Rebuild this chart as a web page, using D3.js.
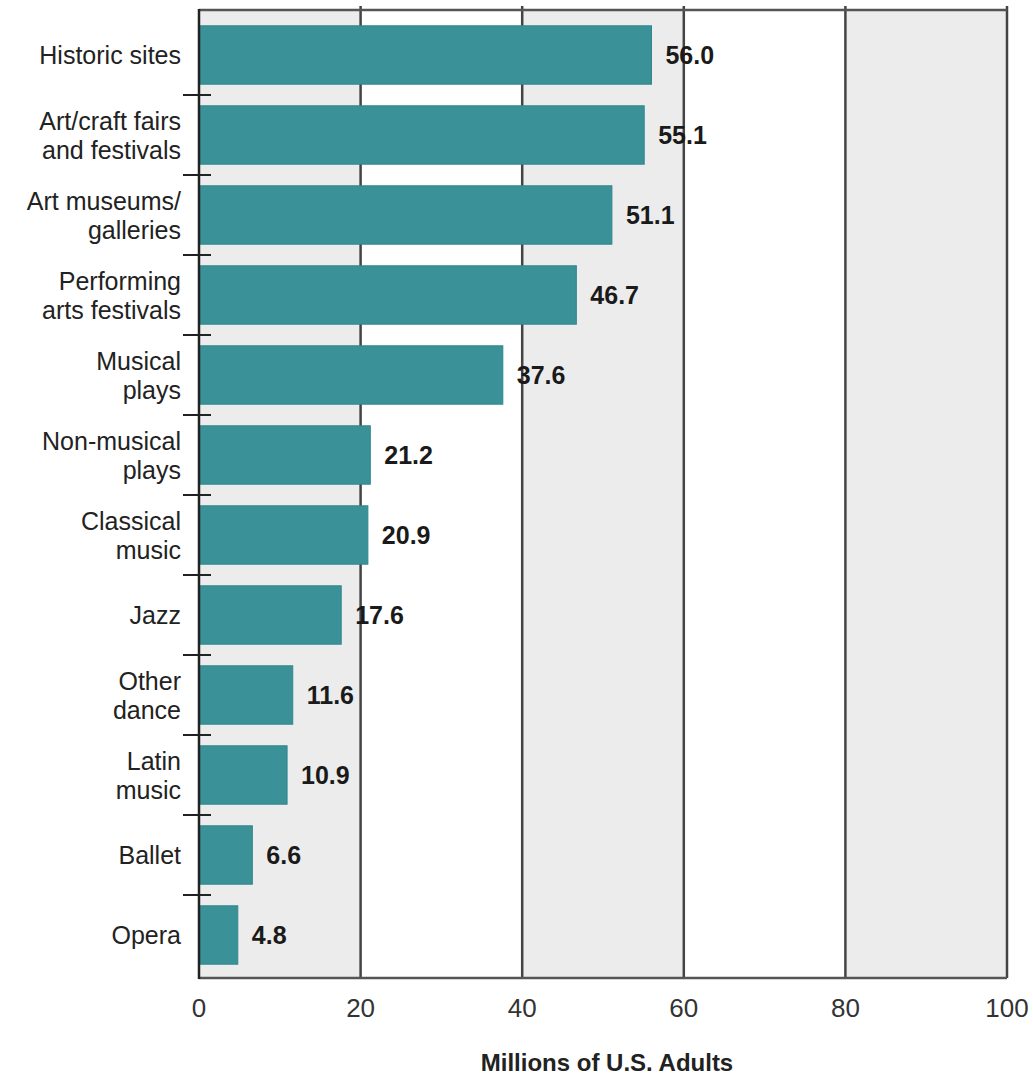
<!DOCTYPE html>
<html>
<head>
<meta charset="utf-8">
<script src="https://cdn.jsdelivr.net/npm/d3@7"></script>
<style>
  body { margin: 0; background: #fff; }
  svg { display: block; font-family: "Liberation Sans", Arial, sans-serif; }
</style>
</head>
<body>
<div id="chart"></div>
<script>
// Data
const categories = [
    'Historic sites',
    'Art/craft fairs\nand festivals',
    'Art museums/\ngalleries',
    'Performing\narts festivals',
    'Musical\nplays',
    'Non-musical\nplays',
    'Classical\nmusic',
    'Jazz',
    'Other\ndance',
    'Latin\nmusic',
    'Ballet',
    'Opera'
];
const values = [56.0, 55.1, 51.1, 46.7, 37.6, 21.2, 20.9, 17.6, 11.6, 10.9, 6.6, 4.8];
const xTicks = [0, 20, 40, 60, 80, 100];
const axisTitle = 'Millions of U.S. Adults';

const W = 1033, H = 1077;
const plot = { left: 199, right: 1007, top: 10, bottom: 978 };

const svg = d3.select('#chart').append('svg')
    .attr('width', W)
    .attr('height', H);

const x = d3.scaleLinear().domain([0, 100]).range([plot.left, plot.right]);
const y = d3.scaleBand().domain(categories).range([15, 975])
    .paddingInner(0.27).paddingOuter(0.135);

// alternating background bands
const bands = d3.pairs(xTicks);
svg.append('g').selectAll('rect')
    .data(bands)
    .join('rect')
    .attr('x', d => x(d[0]))
    .attr('y', plot.top)
    .attr('width', d => x(d[1]) - x(d[0]))
    .attr('height', plot.bottom - plot.top)
    .attr('fill', (d, i) => i % 2 === 0 ? '#ececec' : '#ffffff');

// vertical gridlines (with small bumps above the top frame)
svg.append('g').selectAll('line')
    .data(xTicks.slice(1))
    .join('line')
    .attr('x1', d => x(d)).attr('x2', d => x(d))
    .attr('y1', plot.top - 4).attr('y2', plot.bottom)
    .attr('stroke', '#444').attr('stroke-width', 2.5);

// frame: top and bottom
svg.append('line')
    .attr('x1', plot.left).attr('x2', plot.right)
    .attr('y1', plot.top).attr('y2', plot.top)
    .attr('stroke', '#555').attr('stroke-width', 2.5);
svg.append('line')
    .attr('x1', plot.left).attr('x2', plot.right)
    .attr('y1', plot.bottom).attr('y2', plot.bottom)
    .attr('stroke', '#555').attr('stroke-width', 2.5);

// bars
svg.append('g').selectAll('rect')
    .data(values)
    .join('rect')
    .attr('x', x(0))
    .attr('y', (d, i) => y(categories[i]))
    .attr('width', d => x(d) - x(0))
    .attr('height', y.bandwidth())
    .attr('fill', '#3a9198')
    .attr('stroke', '#2f878d')
    .attr('stroke-width', 1);

// left axis line
svg.append('line')
    .attr('x1', plot.left).attr('x2', plot.left)
    .attr('y1', plot.top - 1).attr('y2', plot.bottom + 1)
    .attr('stroke', '#222').attr('stroke-width', 2.5);

// ticks between categories on the left axis
const gap = y.step() - y.bandwidth();
svg.append('g').selectAll('line')
    .data(categories.slice(1))
    .join('line')
    .attr('x1', plot.left - 16).attr('x2', plot.left + 12)
    .attr('y1', d => y(d) - gap / 2).attr('y2', d => y(d) - gap / 2)
    .attr('stroke', '#222').attr('stroke-width', 2);

// category labels
const lineH = 29;
svg.append('g').selectAll('text')
    .data(categories)
    .join('text')
    .attr('text-anchor', 'end')
    .attr('font-size', 25)
    .attr('fill', '#222')
    .each(function(d) {
        const lines = d.split('\n');
        const cy = y(d) + y.bandwidth() / 2;
        const t = d3.select(this);
        lines.forEach((ln, k) => {
            t.append('tspan')
                .attr('x', 181)
                .attr('y', cy + (k - (lines.length - 1) / 2) * lineH)
                .attr('dy', '0.36em')
                .text(ln);
        });
    });

// value labels
const fmt = d3.format('.1f');
svg.append('g').selectAll('text')
    .data(values)
    .join('text')
    .attr('x', d => x(d) + 14)
    .attr('y', (d, i) => y(categories[i]) + y.bandwidth() / 2)
    .attr('dy', '0.36em')
    .attr('font-size', 25)
    .attr('font-weight', 'bold')
    .attr('fill', '#1a1a1a')
    .text(d => fmt(d));

// x tick labels
svg.append('g').selectAll('text')
    .data(xTicks)
    .join('text')
    .attr('x', d => x(d))
    .attr('y', 1017)
    .attr('text-anchor', 'middle')
    .attr('font-size', 26)
    .attr('fill', '#333')
    .text(d => d);

// axis title
svg.append('text')
    .attr('x', (plot.left + plot.right) / 2 + 4)
    .attr('y', 1071)
    .attr('text-anchor', 'middle')
    .attr('font-size', 24)
    .attr('font-weight', 'bold')
    .attr('fill', '#222')
    .text(axisTitle);
</script>
</body>
</html>
